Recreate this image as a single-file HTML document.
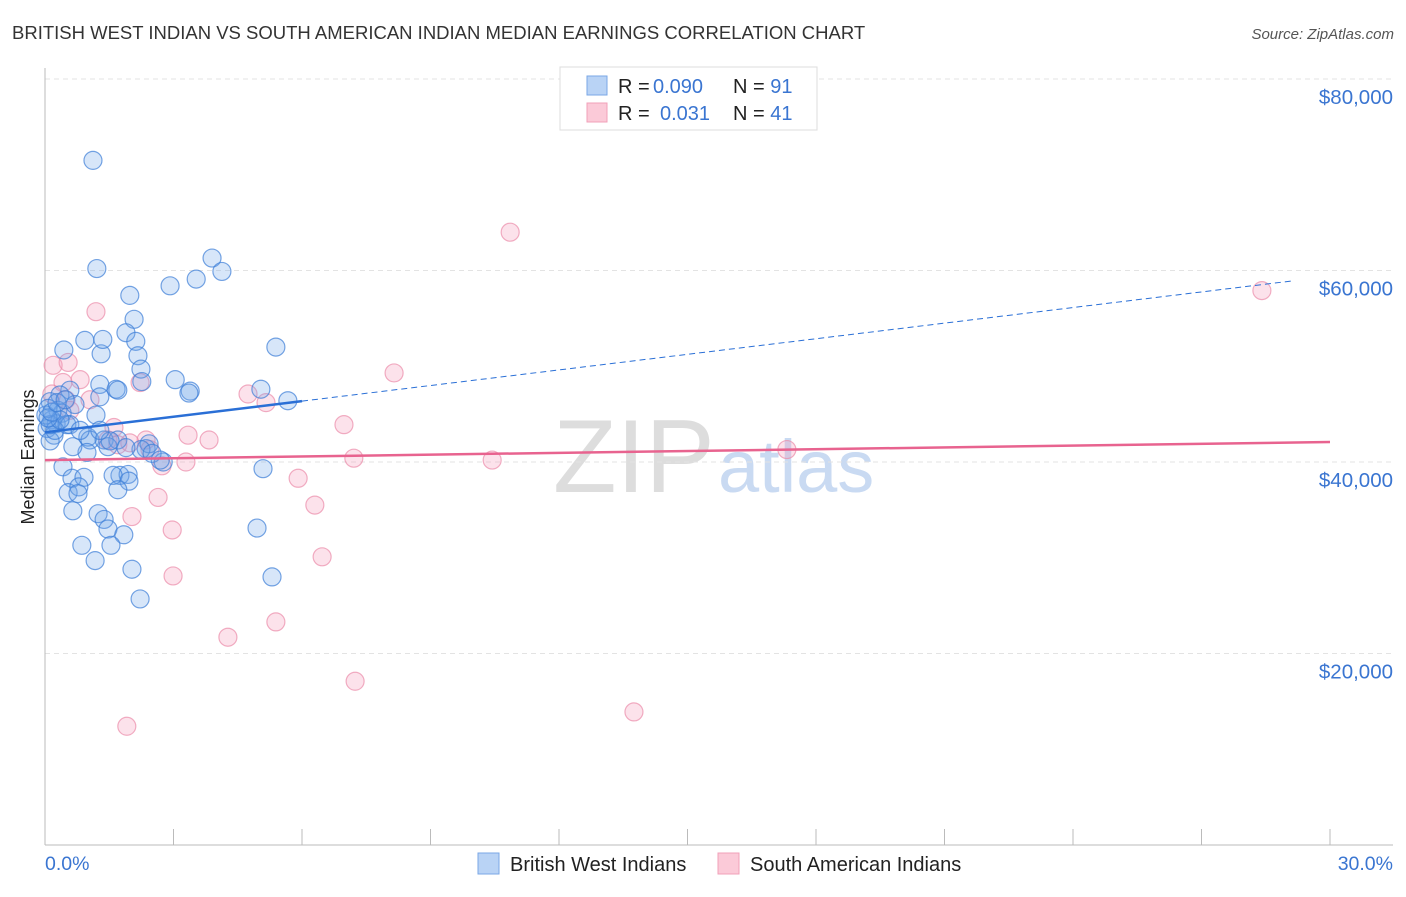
<!DOCTYPE html>
<html><head><meta charset="utf-8"><style>
body{margin:0;background:#fff;font-family:"Liberation Sans",sans-serif}
svg text{font-family:"Liberation Sans",sans-serif}
</style></head><body>
<svg id="c" width="1406" height="892">
<text x="12" y="39" font-size="18.5" fill="#333">BRITISH WEST INDIAN VS SOUTH AMERICAN INDIAN MEDIAN EARNINGS CORRELATION CHART</text>
<text x="1394" y="39" font-size="15" fill="#555" font-style="italic" text-anchor="end">Source: ZipAtlas.com</text>
<text x="553" y="492" font-size="104" fill="#ddd" font-family="Liberation Serif">ZIP</text>
<text x="718" y="492" font-size="74" fill="#c9daf2">atlas</text>
<text x="34" y="457" font-size="18" fill="#222" text-anchor="middle" transform="rotate(-90 34 457)">Median Earnings</text>
<g id="grid"></g><g id="marks"></g>
<g>
<rect x="560" y="67" width="257" height="63" fill="#fff" stroke="#ddd"/>
<rect x="587" y="76" width="20" height="19" fill="#b9d3f5" stroke="#7aa7e6"/>
<rect x="587" y="103" width="20" height="19" fill="#fbcad8" stroke="#f2a0b9"/>
<text x="618" y="93" font-size="20" fill="#222">R = <tspan x="653" fill="#3a75d1">0.090</tspan><tspan x="733">N = </tspan><tspan fill="#3a75d1">91</tspan></text>
<text x="618" y="120" font-size="20" fill="#222">R = <tspan x="660" fill="#3a75d1">0.031</tspan><tspan x="733">N = </tspan><tspan fill="#3a75d1">41</tspan></text>
</g>
<g>
<rect x="478" y="853" width="21" height="21" fill="#b9d3f5" stroke="#7aa7e6"/>
<text x="510" y="871" font-size="20" fill="#222">British West Indians</text>
<rect x="718" y="853" width="21" height="21" fill="#fbcad8" stroke="#f2a0b9"/>
<text x="750" y="871" font-size="20" fill="#222">South American Indians</text>
</g>
</svg>
<script>
const xTicks=[0,3,6,9,12,15,18,21,24,27,30];
const yTicks=[20000,40000,60000,80000];
const yTickLabels=["$20,000","$40,000","$60,000","$80,000"];
const blueX=[1.12,1.21,1.98,2.92,3.53,3.90,4.13,2.08,1.89,2.12,2.17,1.31,0.93,0.44,1.35,5.39,2.24,2.26,3.04,3.39,3.36,5.04,5.67,1.28,1.66,0.58,0.35,0.12,0.30,0.40,1.19,0.16,0.26,0.05,0.51,0.58,0.21,1.00,1.05,1.38,1.70,1.47,0.98,0.65,2.36,2.43,2.76,0.42,5.09,1.75,1.94,1.59,0.63,0.91,1.96,1.70,0.54,0.79,0.77,0.65,1.24,1.38,1.47,1.84,0.86,1.54,1.17,2.03,4.95,2.22,5.30,0.12,0.23,0.02,0.12,0.35,0.07,0.70,1.28,1.70,0.07,0.16,0.28,0.47,1.52,2.24,2.50,2.69,1.28,0.82,1.89];
const blueY=[71.5,60.2,57.4,58.4,59.1,61.3,59.9,54.9,53.5,52.6,51.1,51.3,52.7,51.7,52.8,52.0,49.7,48.4,48.6,47.4,47.2,47.6,46.4,48.1,47.6,47.5,47.0,46.3,45.4,45.1,44.9,44.4,44.0,43.5,43.9,43.9,42.8,42.6,42.3,42.3,42.3,41.6,41.0,41.6,41.4,41.9,40.0,39.5,39.3,38.6,38.7,38.6,38.3,38.4,38.0,37.1,36.8,37.4,36.7,34.9,34.6,34.0,33.0,32.4,31.3,31.3,29.7,28.8,33.1,25.7,28.0,42.2,43.3,44.9,43.9,44.4,45.6,46.0,46.8,47.5,44.6,45.2,46.2,46.5,42.2,41.3,40.9,40.2,43.3,43.3,41.5];
const pinkX=[0.19,0.54,1.19,0.42,0.82,0.49,1.05,0.58,0.16,1.61,1.47,1.70,2.22,2.36,2.45,3.34,3.83,3.29,2.73,2.64,4.74,5.16,8.15,6.98,7.21,10.44,5.91,6.30,6.47,2.97,2.99,2.03,4.27,5.39,7.24,1.91,13.75,10.86,17.32,28.41,1.98];
const pinkY=[50.1,50.4,55.7,48.3,48.6,46.5,46.5,45.4,47.1,43.6,42.3,41.8,48.3,42.3,41.3,42.8,42.3,40.0,39.6,36.3,47.1,46.2,49.3,43.9,40.4,40.2,38.3,35.5,30.1,32.9,28.1,34.3,21.7,23.3,17.1,12.4,13.9,64.0,41.3,57.9,42.0];
const blueTrend=[43.1,0.543];
const pinkTrend=[40.2,0.063];
const X=v=>45+v*(1285/30), Y=v=>845-v*(766/80000);
const NS='http://www.w3.org/2000/svg';
function mk(t,a,p){const e=document.createElementNS(NS,t);for(const k in a)e.setAttribute(k,a[k]);p.appendChild(e);return e;}
const g=document.getElementById('grid'),m=document.getElementById('marks');
yTicks.forEach((v,i)=>{
 const l=mk('line',{x1:45,x2:1393,y1:Y(v),y2:Y(v),stroke:'#e3e3e3','stroke-dasharray':'5,4'},g);
 
 
 const t=mk('text',{x:1393,y:Y(v)+25,'font-size':20.5,fill:'#3a75d1','text-anchor':'end'},g);t.textContent=yTickLabels[i];
 
 
});
const ax=mk('line',{x1:45,x2:1393,y1:845,y2:845,stroke:'#bbb'},g);


const ay=mk('line',{x1:45,x2:45,y1:68,y2:845,stroke:'#bbb'},g);


xTicks.forEach(v=>{const l=mk('line',{x1:X(v),x2:X(v),y1:829,y2:845,stroke:'#bbb'},g);
 
 });
[[0,'0.0%','start',45],[30,'30.0%','end',1393]].forEach(d=>{const t=mk('text',{x:d[3],y:870,'font-size':19.5,fill:'#3a75d1','text-anchor':d[2]},g);t.textContent=d[1];
 
 });
pinkX.forEach((x,i)=>{const c=mk('circle',{cx:X(x),cy:Y(pinkY[i]*1000),r:9,fill:'rgba(245,160,190,0.3)',stroke:'rgba(235,140,170,0.7)','stroke-width':1.2},m);
 
 });
blueX.forEach((x,i)=>{const c=mk('circle',{cx:X(x),cy:Y(blueY[i]*1000),r:9,fill:'rgba(110,165,235,0.28)',stroke:'rgba(60,125,215,0.7)','stroke-width':1.2},m);
 
 });
const bt=x=>Y((blueTrend[0]+blueTrend[1]*x)*1000), pt=x=>Y((pinkTrend[0]+pinkTrend[1]*x)*1000);
const l1=mk('line',{x1:X(0),y1:bt(0),x2:X(6),y2:bt(6),stroke:'#2a6fd6','stroke-width':2.5},m);


const l2=mk('line',{x1:X(6),y1:bt(6),x2:X(29.1),y2:bt(29.1),stroke:'#2a6fd6','stroke-width':1,'stroke-dasharray':'6,4'},m);


const l3=mk('line',{x1:X(0),y1:pt(0),x2:X(30),y2:pt(30),stroke:'#e8638f','stroke-width':2.5},m);


</script>
</body></html>
